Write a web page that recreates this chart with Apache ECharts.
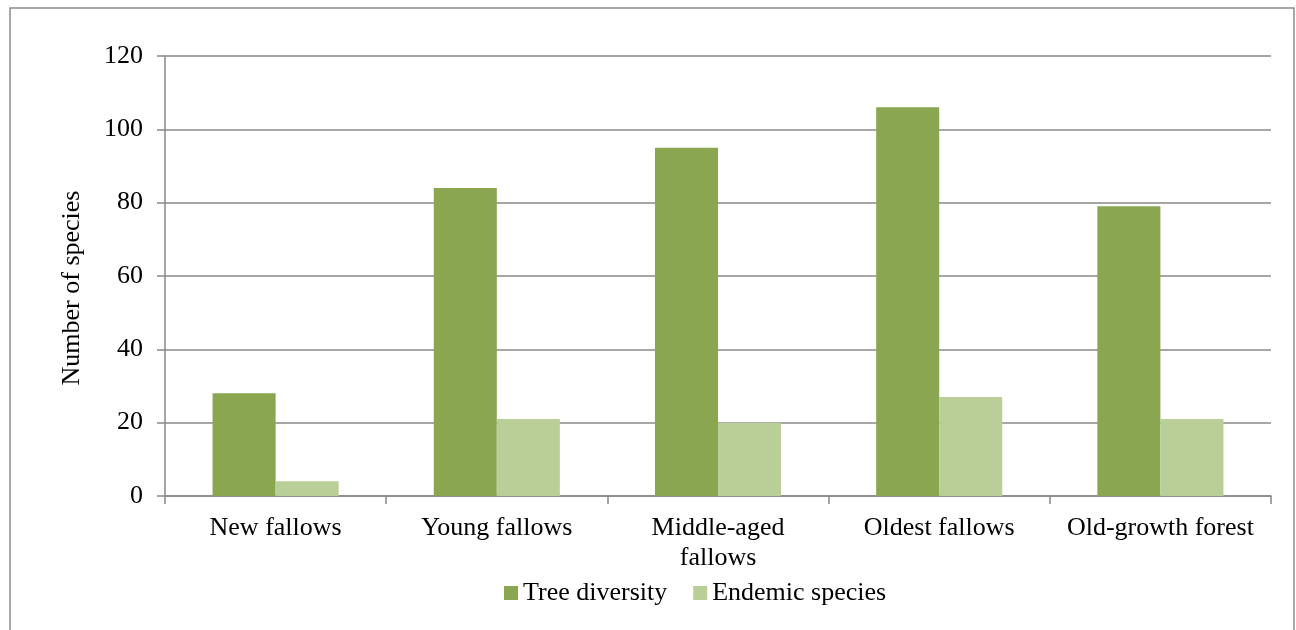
<!DOCTYPE html>
<html>
<head>
<meta charset="utf-8">
<script src="https://cdn.jsdelivr.net/npm/echarts@6/dist/echarts.min.js"></script>
<style>
html,body{margin:0;padding:0;background:#fff;}
#c{width:1296px;height:630px;}
</style>
</head>
<body>
<div id="c"></div>
<script>
const categories = ["New fallows", "Young fallows", "Middle-aged\nfallows", "Oldest fallows", "Old-growth forest"];
const treeDiversity = [28, 84, 95, 106, 79];
const endemicSpecies = [4, 21, 20, 27, 21];
const seriesNames = ["Tree diversity", "Endemic species"];
const yTicks = { min: 0, max: 120, interval: 20 };

const FONT = "'Liberation Serif', 'Times New Roman', serif";
const chart = echarts.init(document.getElementById('c'));
chart.setOption({
  animation: false,
  backgroundColor: '#ffffff',
  textStyle: { fontFamily: FONT, color: '#000' },
  graphic: [{
    type: 'rect',
    shape: { x: 10, y: 8, width: 1284, height: 640 },
    style: { fill: 'none', stroke: '#8c8c8c', lineWidth: 1.5 },
    silent: true
  }],
  grid: { left: 165, right: 25, top: 56, bottom: 134, containLabel: false },
  legend: {
    data: seriesNames,
    bottom: 19,
    left: 499,
    itemWidth: 14,
    itemHeight: 14,
    itemGap: 26,
    icon: 'rect',
    textStyle: { fontFamily: FONT, fontSize: 26, color: '#000', padding: [0, 0, 0, 0] }
  },
  xAxis: {
    type: 'category',
    data: categories,
    axisLine: { show: true, lineStyle: { color: '#888', width: 1.5 } },
    axisTick: { show: true, length: 8, lineStyle: { color: '#888', width: 1.5 } },
    axisLabel: { fontFamily: FONT, fontSize: 26, color: '#000', margin: 17, lineHeight: 30, interval: 0 }
  },
  yAxis: {
    type: 'value',
    min: yTicks.min, max: yTicks.max, interval: yTicks.interval,
    name: 'Number of species',
    nameLocation: 'middle',
    nameRotate: 90,
    nameGap: 80,
    nameTextStyle: { fontFamily: FONT, fontSize: 26, color: '#000', padding: [0, 24, 0, 0] },
    axisLine: { show: true, lineStyle: { color: '#888', width: 1.5 } },
    axisTick: { show: true, length: 8, lineStyle: { color: '#888', width: 1.5 } },
    splitLine: { show: true, lineStyle: { color: '#888', width: 1.5 } },
    axisLabel: { fontFamily: FONT, fontSize: 26, color: '#000', margin: 22 }
  },
  series: [
    { name: seriesNames[0], type: 'bar', data: treeDiversity, barWidth: '28.5%', barGap: '0%',
      itemStyle: { color: '#8BA650' } },
    { name: seriesNames[1], type: 'bar', data: endemicSpecies, barWidth: '28.5%', barGap: '0%',
      itemStyle: { color: '#BACF97' } }
  ]
});
</script>
</body>
</html>
